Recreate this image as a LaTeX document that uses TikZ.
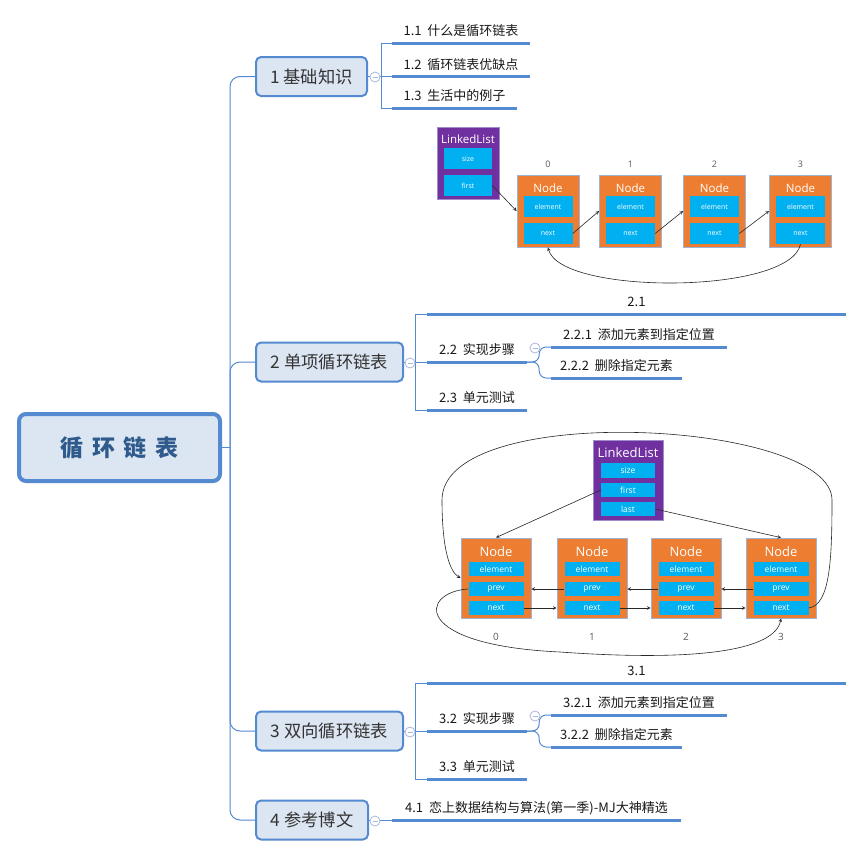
\documentclass[tikz,border=0pt]{standalone}
\usepackage{fontspec}
\setmainfont{Noto Sans CJK SC}
\newfontfamily\llfont{Open Sans}
\usepackage{tikz}
\usetikzlibrary{positioning}
\definecolor{mapblue}{RGB}{84,138,208}
\definecolor{mapfill}{RGB}{220,230,242}
\definecolor{rootink}{RGB}{46,90,140}
\definecolor{branchink}{RGB}{51,51,51}
\definecolor{topicink}{RGB}{25,25,25}
\definecolor{foldink}{RGB}{170,185,220}
\definecolor{llpurple}{RGB}{112,48,160}
\definecolor{llrim}{RGB}{160,140,200}
\definecolor{llorange}{RGB}{237,125,49}
\definecolor{lledge}{RGB}{155,180,215}
\definecolor{llcyan}{RGB}{0,176,240}
\definecolor{idxink}{RGB}{90,90,90}
\definecolor{ptrink}{RGB}{40,40,40}
\tikzset{rootbox/.style={draw=mapblue,fill=mapfill,line width=4pt,rounded corners=7pt,minimum width=201pt,minimum height=67pt,text=rootink,font=\fontsize{23}{25}\selectfont\bfseries}}
\tikzset{branchbox/.style={draw=mapblue,fill=mapfill,line width=2pt,rounded corners=5pt,minimum height=39pt,text=branchink,font=\fontsize{17.3}{19}\selectfont}}
\tikzset{topic/.style={anchor=south,minimum height=24pt,inner sep=0pt,text=topicink,font=\fontsize{13}{15}\selectfont}}
\tikzset{uline/.style={mapblue,line width=3pt},link/.style={mapblue,line width=1pt}}
\tikzset{fold/.style={circle,draw=foldink,fill=white,line width=0.8pt,minimum size=10pt,inner sep=0pt,
    path picture={\draw[foldink,line width=0.8pt] ([xshift=-2.5pt]path picture bounding box.center) -- ([xshift=2.5pt]path picture bounding box.center);}}}
\tikzset{llbox/.style={draw=llrim,fill=llpurple,line width=0.8pt,inner sep=0pt},
    nodebox/.style={draw=lledge,fill=llorange,line width=0.8pt,inner sep=0pt},
    field/.style={fill=llcyan,text=white,inner sep=0pt}}
\tikzset{titleA/.style={text=white,font=\llfont\fontsize{11.5}{12}\selectfont},
    titleB/.style={text=white,font=\llfont\fontsize{13}{14}\selectfont},
    fieldA/.style={field,minimum width=49pt,minimum height=21pt,font=\llfont\fontsize{7}{8}\selectfont},
    fieldB/.style={field,minimum width=55pt,minimum height=14.5pt,font=\llfont\fontsize{8.5}{9}\selectfont},
    idxA/.style={text=idxink,font=\llfont\fontsize{9}{10}\selectfont},
    idxB/.style={text=idxink,font=\llfont\fontsize{10}{11}\selectfont},
    ptr/.style={->,line width=0.6pt,draw=ptrink}}

\begin{document}
\begin{tikzpicture}[x=1pt,y=-1pt,>=stealth]
    \fill[white] (0,0) rectangle (862,857);
    \useasboundingbox (0,0) rectangle (862,857);

    % mind map
    \node[rootbox] (root) at (119.5,447.5) {循\hspace{8.5pt}环\hspace{8.5pt}链\hspace{8.5pt}表};
    \coordinate (hub) at (230,447.5);
    \node[branchbox,minimum width=111pt] (b1) at (311.5,76.5) {1 基础知识};
    \node[branchbox,minimum width=147pt] (b2) at (329.5,362) {2 单项循环链表};
    \node[branchbox,minimum width=147pt] (b3) at (329.5,731) {3 双向循环链表};
    \node[branchbox,minimum width=112pt] (b4) at (312,820) {4 参考博文};

    \node[topic,minimum width=138pt] (t11) at (461,43) {1.1\ \ 什么是循环链表};
    \node[topic,minimum width=138pt] (t12) at (461,76.5) {1.2\ \ 循环链表优缺点};
    \node[topic,minimum width=125pt] (t13) at (454.5,108) {1.3\ \ 生活中的例子};
    \node[topic,minimum width=419pt] (t21) at (636.5,314) {2.1};
    \node[topic,minimum width=100pt] (t22) at (477,362) {2.2\ \ 实现步骤};
    \node[topic,minimum width=176pt] (t221) at (639,347) {2.2.1\ \ 添加元素到指定位置};
    \node[topic,minimum width=131pt] (t222) at (616.5,378) {2.2.2\ \ 删除指定元素};
    \node[topic,minimum width=100pt] (t23) at (477,410) {2.3\ \ 单元测试};
    \node[topic,minimum width=419pt] (t31) at (636.5,683) {3.1};
    \node[topic,minimum width=100pt] (t32) at (477,731) {3.2\ \ 实现步骤};
    \node[topic,minimum width=176pt] (t321) at (639,715) {3.2.1\ \ 添加元素到指定位置};
    \node[topic,minimum width=131pt] (t322) at (616.5,747) {3.2.2\ \ 删除指定元素};
    \node[topic,minimum width=100pt] (t33) at (477,779) {3.3\ \ 单元测试};
    \node[topic,minimum width=289pt] (t41) at (536.5,820) {4.1\ \ 恋上数据结构与算法(第一季)-MJ大神精选};

    \draw [link] (root.east) -- (hub);
    \draw [link,rounded corners=10pt] (hub) |- (b1.west);
    \draw [link,rounded corners=10pt] (hub) |- (b2.west);
    \draw [link,rounded corners=10pt] (hub) |- (b3.west);
    \draw [link,rounded corners=10pt] (hub) |- (b4.west);

    \draw [link] (b1.east) -- (t12.south west);
    \draw [link] (t11.south west) -- ++(-10,0) |- (t13.south west);
    \draw [link] (b2.east) -- (t22.south west);
    \draw [link] (t21.south west) -- ++(-11,0) |- (t23.south west);
    \draw [link,rounded corners=7pt] (t22.south east) -- ++(12,0) |- (t221.south west);
    \draw [link,rounded corners=7pt] (t22.south east) -- ++(12,0) |- (t222.south west);
    \draw [link] (b3.east) -- (t32.south west);
    \draw [link] (t31.south west) -- ++(-11,0) |- (t33.south west);
    \draw [link,rounded corners=7pt] (t32.south east) -- ++(12,0) |- (t321.south west);
    \draw [link,rounded corners=7pt] (t32.south east) -- ++(12,0) |- (t322.south west);
    \draw [link] (b4.east) -- (t41.south west);

    \draw [uline] (t11.south west) -- (t11.south east);
    \draw [uline] (t12.south west) -- (t12.south east);
    \draw [uline] (t13.south west) -- (t13.south east);
    \draw [uline] (t21.south west) -- (t21.south east);
    \draw [uline] (t22.south west) -- (t22.south east);
    \draw [uline] (t221.south west) -- (t221.south east);
    \draw [uline] (t222.south west) -- (t222.south east);
    \draw [uline] (t23.south west) -- (t23.south east);
    \draw [uline] (t31.south west) -- (t31.south east);
    \draw [uline] (t32.south west) -- (t32.south east);
    \draw [uline] (t321.south west) -- (t321.south east);
    \draw [uline] (t322.south west) -- (t322.south east);
    \draw [uline] (t33.south west) -- (t33.south east);
    \draw [uline] (t41.south west) -- (t41.south east);

    \node[fold] (f1) at (375,77) {};
    \node[fold] (f2) at (410,363) {};
    \node[fold] (f22) at (535,348) {};
    \node[fold] (f3) at (410,732) {};
    \node[fold] (f32) at (535,716) {};
    \node[fold] (f4) at (375,821) {};

    % singly linked list
    \node[llbox,minimum width=62pt,minimum height=72pt] (ll1) at (468,163) {};
    \node[titleA] (ll1t) at (468,139) {LinkedList};
    \node[fieldA,minimum width=48pt] (ll1size) at (468,158.5) {size};
    \node[fieldA,minimum width=48pt] (ll1first) at (468,185.5) {first};

    \node[nodebox,minimum width=62pt,minimum height=72pt] (n10) at (548,211) {};
    \node[nodebox,minimum width=62pt,minimum height=72pt] (n11) at (630.5,211) {};
    \node[nodebox,minimum width=62pt,minimum height=72pt] (n12) at (714.5,211) {};
    \node[nodebox,minimum width=62pt,minimum height=72pt] (n13) at (800.5,211) {};
    \node[titleA] (n10t) at (548,188) {Node};
    \node[titleA] (n11t) at (630.5,188) {Node};
    \node[titleA] (n12t) at (714.5,188) {Node};
    \node[titleA] (n13t) at (800.5,188) {Node};
    \node[fieldA] (n10elem) at (548,206.5) {element};
    \node[fieldA] (n11elem) at (630.5,206.5) {element};
    \node[fieldA] (n12elem) at (714.5,206.5) {element};
    \node[fieldA] (n13elem) at (800.5,206.5) {element};
    \node[fieldA] (n10next) at (548,233.5) {next};
    \node[fieldA] (n11next) at (630.5,233.5) {next};
    \node[fieldA] (n12next) at (714.5,233.5) {next};
    \node[fieldA] (n13next) at (800.5,233.5) {next};
    \node[idxA] (i10) at (548,164) {0};
    \node[idxA] (i11) at (630.5,164) {1};
    \node[idxA] (i12) at (714.5,164) {2};
    \node[idxA] (i13) at (800.5,164) {3};

    \draw [ptr] (ll1first.east) -- (n10.west);
    \draw [ptr] (n10next.east) -- (n11.west);
    \draw [ptr] (n11next.east) -- (n12.west);
    \draw [ptr] (n12next.east) -- (n13.west);
    \draw [ptr] (n13next.south) .. controls (790,295) and (560,295) .. (n10.south);

    % doubly linked list
    \node[llbox,minimum width=70pt,minimum height=80pt] (ll2) at (628,480) {};
    \node[titleB] (ll2t) at (628,453) {LinkedList};
    \node[fieldB,minimum width=54pt] (ll2size) at (628,470.5) {size};
    \node[fieldB,minimum width=54pt] (ll2first) at (628,490) {first};
    \node[fieldB,minimum width=54pt] (ll2last) at (628,509) {last};

    \node[nodebox,minimum width=70pt,minimum height=80pt] (n20) at (496,578) {};
    \node[nodebox,minimum width=70pt,minimum height=80pt] (n21) at (592,578) {};
    \node[nodebox,minimum width=70pt,minimum height=80pt] (n22) at (686,578) {};
    \node[nodebox,minimum width=70pt,minimum height=80pt] (n23) at (781,578) {};
    \node[titleB] (n20t) at (496,552) {Node};
    \node[titleB] (n21t) at (592,552) {Node};
    \node[titleB] (n22t) at (686,552) {Node};
    \node[titleB] (n23t) at (781,552) {Node};
    \node[fieldB] (n20elem) at (496,569) {element};
    \node[fieldB] (n21elem) at (592,569) {element};
    \node[fieldB] (n22elem) at (686,569) {element};
    \node[fieldB] (n23elem) at (781,569) {element};
    \node[fieldB] (n20prev) at (496,589) {prev};
    \node[fieldB] (n21prev) at (592,589) {prev};
    \node[fieldB] (n22prev) at (686,589) {prev};
    \node[fieldB] (n23prev) at (781,589) {prev};
    \node[fieldB] (n20next) at (496,608) {next};
    \node[fieldB] (n21next) at (592,608) {next};
    \node[fieldB] (n22next) at (686,608) {next};
    \node[fieldB] (n23next) at (781,608) {next};
    \node[idxB] (i20) at (496,637) {0};
    \node[idxB] (i21) at (592,637) {1};
    \node[idxB] (i22) at (686,637) {2};
    \node[idxB] (i23) at (781,637) {3};

    \draw [ptr] (ll2first.west) -- (n20.north);
    \draw [ptr] (ll2last.east) -- (n23.north);
    \draw [ptr] (n20next.east) -- (n20next.east -| n21.west);
    \draw [ptr] (n21next.east) -- (n21next.east -| n22.west);
    \draw [ptr] (n22next.east) -- (n22next.east -| n23.west);
    \draw [ptr] (n21prev.west) -- (n21prev.west -| n20.east);
    \draw [ptr] (n22prev.west) -- (n22prev.west -| n21.east);
    \draw [ptr] (n23prev.west) -- (n23prev.west -| n22.east);
    \draw [ptr] (n23next.east) .. controls (830,605) and (832,560) .. (832,500)
        .. controls (832,420) and (442,400) .. (442,500)
        .. controls (442,550) and (450,572) .. (n20.west);
    \draw [ptr] (n20prev.west) .. controls (420,592) and (410,645) .. (560,652)
        .. controls (700,662) and (775,650) .. (n23.south);
\end{tikzpicture}
\end{document}
